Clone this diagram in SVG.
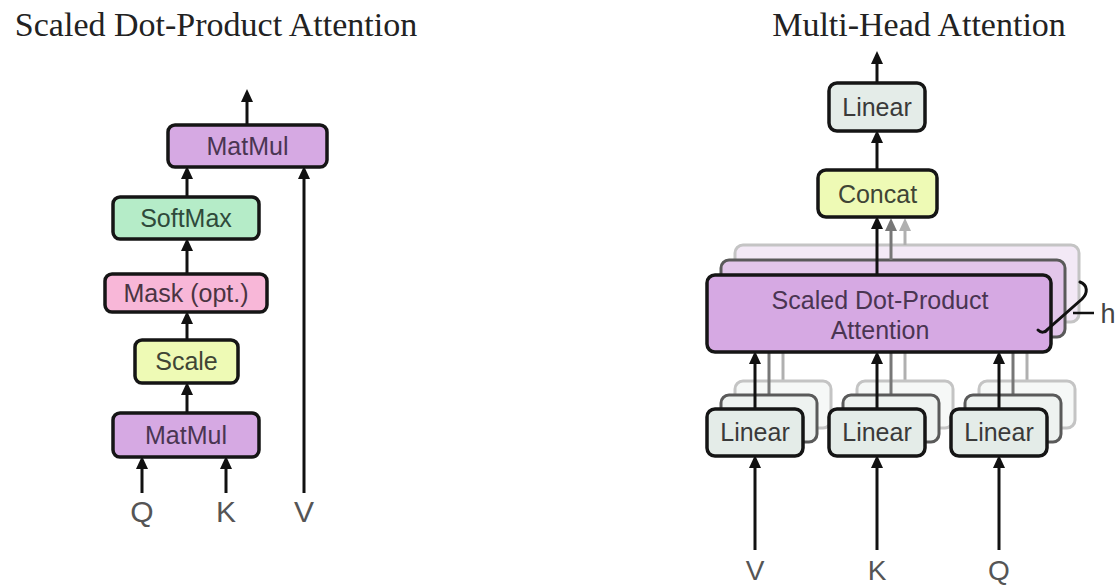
<svg xmlns="http://www.w3.org/2000/svg" width="1117" height="587" viewBox="0 0 1117 587">
<defs>
<marker id="ah" viewBox="0 0 13 12" refX="5" refY="6" markerWidth="13" markerHeight="12" markerUnits="userSpaceOnUse" orient="auto"><path d="M0,0 L13,6 L0,12 z" fill="#111"/></marker>
<marker id="ah2" viewBox="0 0 13 12" refX="5" refY="6" markerWidth="13" markerHeight="12" markerUnits="userSpaceOnUse" orient="auto"><path d="M0,0 L13,6 L0,12 z" fill="#777"/></marker>
<marker id="ah3" viewBox="0 0 13 12" refX="5" refY="6" markerWidth="13" markerHeight="12" markerUnits="userSpaceOnUse" orient="auto"><path d="M0,0 L13,6 L0,12 z" fill="#b0b0b0"/></marker>
</defs>
<style>
.box{stroke:#151515;stroke-width:3.5}
.lbl{font-family:"Liberation Sans",Arial,sans-serif;font-size:25px;fill:#3a3a3a;text-anchor:middle}
.io{font-family:"Liberation Sans",Arial,sans-serif;font-size:30px;fill:#555;text-anchor:middle}
.title{font-family:"Liberation Serif","Times New Roman",serif;font-size:34px;fill:#222;text-anchor:middle}
.c{stroke:#111;stroke-width:3;fill:none}
.c2{stroke:#777;stroke-width:3;fill:none}
.c3{stroke:#b0b0b0;stroke-width:3;fill:none}
.purple{fill:#d6a9e3}
.green{fill:#b5ecc8}
.pink{fill:#f8b7d8}
.yellow{fill:#eefab5}
.lin{fill:#e4ece8}
.mid{stroke:#5a5a5a;stroke-width:3}
.back{stroke:#c4c4c4;stroke-width:3}
</style>
<rect width="1117" height="587" fill="#fff"/>

<text class="title" x="216" y="36">Scaled Dot-Product Attention</text>
<text class="title" x="919" y="36">Multi-Head Attention</text>

<!-- background layers (multi-head copies) -->
<g id="mha-back-layers">
  <rect x="735" y="245" width="344" height="77" rx="8" fill="#f3e9f6" class="back"/>
  <line x1="905" y1="245" x2="905" y2="226" class="c3" marker-end="url(#ah3)"/>
  <line x1="783" y1="381" x2="783" y2="322" class="c3"/>
  <line x1="905" y1="381" x2="905" y2="322" class="c3"/>
  <line x1="1027" y1="381" x2="1027" y2="322" class="c3"/>
  <rect x="735" y="381" width="96" height="47" rx="8" fill="#f6f8f7" class="back"/>
  <rect x="857" y="381" width="96" height="47" rx="8" fill="#f6f8f7" class="back"/>
  <rect x="979" y="381" width="96" height="47" rx="8" fill="#f6f8f7" class="back"/>

  <rect x="721" y="260" width="344" height="77" rx="8" fill="#e2c6ea" class="mid"/>
  <line x1="891" y1="260" x2="891" y2="226" class="c2" marker-end="url(#ah2)"/>
  <line x1="769" y1="395" x2="769" y2="337" class="c2"/>
  <line x1="891" y1="395" x2="891" y2="337" class="c2"/>
  <line x1="1013" y1="395" x2="1013" y2="337" class="c2"/>
  <rect x="721" y="395" width="96" height="47" rx="8" fill="#eef2f0" class="mid"/>
  <rect x="843" y="395" width="96" height="47" rx="8" fill="#eef2f0" class="mid"/>
  <rect x="965" y="395" width="96" height="47" rx="8" fill="#eef2f0" class="mid"/>
</g>

<g id="connectors">
  <!-- left -->
  <line x1="247" y1="125" x2="247" y2="97" class="c" marker-end="url(#ah)"/>
  <line x1="187" y1="197" x2="187" y2="174" class="c" marker-end="url(#ah)"/>
  <line x1="187" y1="274" x2="187" y2="246" class="c" marker-end="url(#ah)"/>
  <line x1="187" y1="340" x2="187" y2="319" class="c" marker-end="url(#ah)"/>
  <line x1="187" y1="413" x2="187" y2="390" class="c" marker-end="url(#ah)"/>
  <line x1="142" y1="493" x2="142" y2="464" class="c" marker-end="url(#ah)"/>
  <line x1="226" y1="493" x2="226" y2="464" class="c" marker-end="url(#ah)"/>
  <line x1="304" y1="493" x2="304" y2="174" class="c" marker-end="url(#ah)"/>
  <!-- right -->
  <line x1="877" y1="83" x2="877" y2="59" class="c" marker-end="url(#ah)"/>
  <line x1="877" y1="170" x2="877" y2="138" class="c" marker-end="url(#ah)"/>
  <line x1="877" y1="275" x2="877" y2="224" class="c" marker-end="url(#ah)"/>
  <line x1="755" y1="409" x2="755" y2="359" class="c" marker-end="url(#ah)"/>
  <line x1="877" y1="409" x2="877" y2="359" class="c" marker-end="url(#ah)"/>
  <line x1="999" y1="409" x2="999" y2="359" class="c" marker-end="url(#ah)"/>
  <line x1="755" y1="550" x2="755" y2="463" class="c" marker-end="url(#ah)"/>
  <line x1="877" y1="550" x2="877" y2="463" class="c" marker-end="url(#ah)"/>
  <line x1="999" y1="550" x2="999" y2="463" class="c" marker-end="url(#ah)"/>
</g>

<!-- left: scaled dot-product attention -->
<g id="sdpa-matmul-top"><rect x="168" y="125" width="159" height="42" rx="7" class="box purple"/><text class="lbl" x="247.5" y="155" style="fill:#4a3552">MatMul</text></g>
<g id="sdpa-softmax"><rect x="113" y="197" width="146" height="42" rx="7" class="box green"/><text class="lbl" x="186" y="227" style="fill:#2f4a3b">SoftMax</text></g>
<g id="sdpa-mask"><rect x="105" y="274" width="162" height="38" rx="7" class="box pink"/><text class="lbl" x="186" y="302" style="fill:#4a3442">Mask (opt.)</text></g>
<g id="sdpa-scale"><rect x="135" y="340" width="103" height="43" rx="7" class="box yellow"/><text class="lbl" x="186.5" y="370" style="fill:#3f4535">Scale</text></g>
<g id="sdpa-matmul-bottom"><rect x="113" y="413" width="146" height="44" rx="7" class="box purple"/><text class="lbl" x="186" y="444" style="fill:#4a3552">MatMul</text></g>
<g id="sdpa-inputs">
  <text class="io" x="142" y="522">Q</text>
  <text class="io" x="226" y="522">K</text>
  <text class="io" x="304" y="522">V</text>
</g>

<!-- right: multi-head attention -->
<g id="mha-linear-out"><rect x="829" y="83" width="96" height="48" rx="8" class="box lin"/><text class="lbl" x="877" y="116">Linear</text></g>
<g id="mha-concat"><rect x="818" y="170" width="119" height="47" rx="8" class="box yellow"/><text class="lbl" x="877.5" y="203" style="fill:#3f4535">Concat</text></g>
<g id="mha-sdpa"><rect x="707" y="275" width="344" height="77" rx="8" class="box purple"/>
  <text class="lbl" x="880" y="309" style="fill:#4a3552">Scaled Dot-Product</text>
  <text class="lbl" x="880" y="339" style="fill:#4a3552">Attention</text></g>
<g id="mha-linear-v"><rect x="707" y="409" width="96" height="47" rx="8" class="box lin"/><text class="lbl" x="755" y="441">Linear</text></g>
<g id="mha-linear-k"><rect x="829" y="409" width="96" height="47" rx="8" class="box lin"/><text class="lbl" x="877" y="441">Linear</text></g>
<g id="mha-linear-q"><rect x="951" y="409" width="96" height="47" rx="8" class="box lin"/><text class="lbl" x="999" y="441">Linear</text></g>
<g id="mha-h">
  <path d="M1080,282 C1088,285 1088,293 1082,299 L1048,329 C1045,333 1041,333 1038,330" fill="none" stroke="#111" stroke-width="3" stroke-linecap="round"/>
  <line x1="1073" y1="313" x2="1094" y2="313" stroke="#111" stroke-width="2.5"/>
  <text class="io" x="1108" y="323" style="font-size:27px;fill:#444">h</text>
</g>
<g id="mha-inputs">
  <text class="io" x="755" y="580" style="font-size:28px">V</text>
  <text class="io" x="877" y="580" style="font-size:28px">K</text>
  <text class="io" x="999" y="580" style="font-size:28px">Q</text>
</g>
</svg>
